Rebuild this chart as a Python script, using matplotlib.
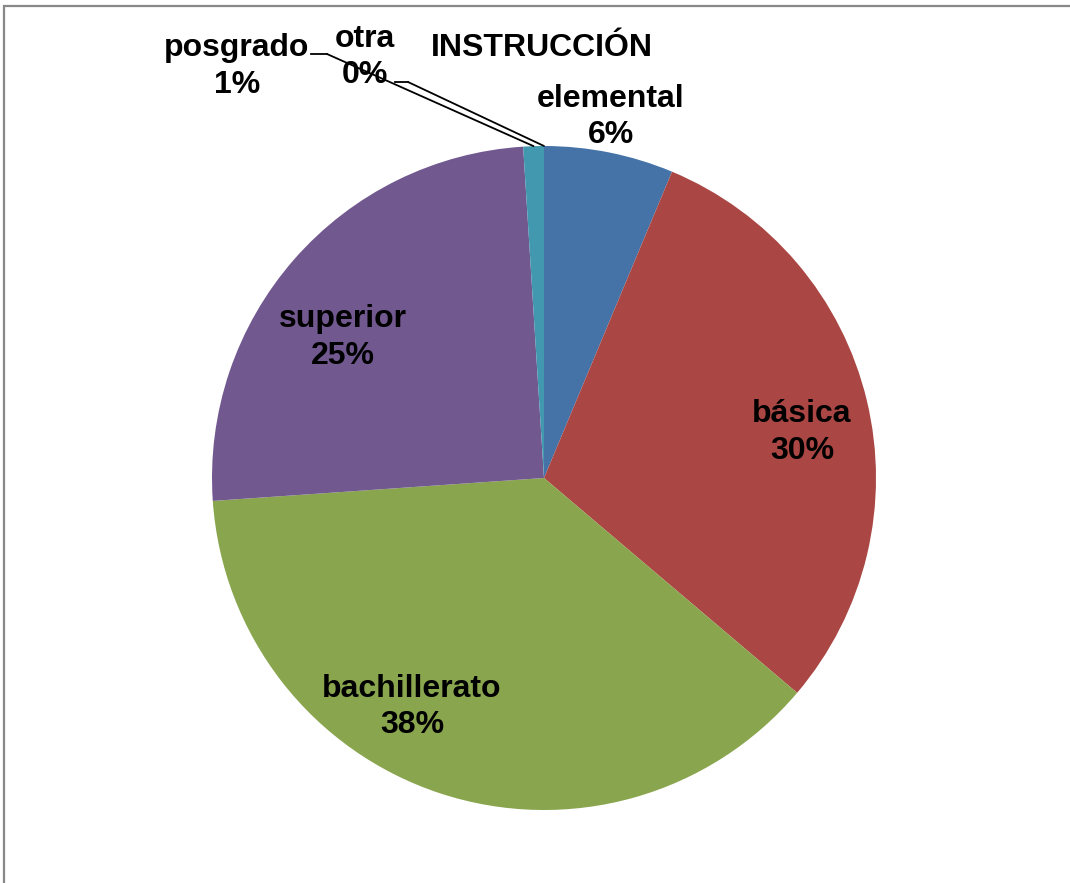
import numpy as np
import matplotlib
matplotlib.use("Agg")
import matplotlib.pyplot as plt
from matplotlib.lines import Line2D
from matplotlib.patches import Rectangle

plt.rcParams['font.family'] = ['Liberation Sans', 'DejaVu Sans']

# datos (porcentajes)
categorias = ["elemental", "básica", "bachillerato", "superior", "posgrado", "otra"]
valores = [6.3, 29.9, 37.7, 25.1, 1.0, 0.0]
colores = ["#4572A7", "#AA4643", "#89A54E", "#71588F", "#4198AF", "#DB843D"]
titulo = "INSTRUCCIÓN"

W, H = 1070, 883
fig = plt.figure(figsize=(W / 100, H / 100), dpi=100)


def px(x, y):
    # pixeles de la imagen (origen arriba-izquierda) -> fraccion de figura
    return x / W, 1 - y / H


# eje cuadrado para la torta: centro (544, 478), radio 332 px
cx, cy, r = 544, 478, 332
ax = fig.add_axes([(cx - r) / W, 1 - (cy + r) / H, 2 * r / W, 2 * r / H])
wedges, _ = ax.pie(valores, colors=colores, startangle=90, counterclock=False,
                   radius=1, wedgeprops=dict(linewidth=0))
ax.set_xlim(-1, 1)
ax.set_ylim(-1, 1)
ax.set_aspect("equal")
ax.axis("off")

total = sum(valores)
pct = [f"{round(v / total * 100)}%" for v in valores]

fs = 23
# posiciones de etiquetas: (x centro, linea base 1, linea base 2) en pixeles
pos_etiquetas = {
    "elemental": (611, 107, 143),
    "básica": (802, 422, 459),
    "bachillerato": (412, 697, 733),
    "superior": (343, 327, 364),
    "posgrado": (237, 56, 93),
    "otra": (365, 47, 83),
}
for nombre, p in zip(categorias, pct):
    x, b1, b2 = pos_etiquetas[nombre]
    fig.text(*px(x, b1), nombre, ha="center", va="baseline", fontsize=fs, fontweight="bold")
    fig.text(*px(x, b2), p, ha="center", va="baseline", fontsize=fs, fontweight="bold")

fig.text(*px(542, 56), titulo, ha="center", va="baseline", fontsize=fs, fontweight="bold")

# lineas guia para posgrado y otra
guias = {"posgrado": ((311, 54), (327, 54)), "otra": ((395, 82), (408, 82))}
for nombre, (a, b) in guias.items():
    w = wedges[categorias.index(nombre)]
    ang = np.deg2rad((w.theta1 + w.theta2) / 2)
    borde = (np.cos(ang), np.sin(ang))
    fig.add_artist(Line2D([px(*a)[0], px(*b)[0]], [px(*a)[1], px(*b)[1]],
                          color="black", lw=1.3, transform=fig.transFigure))
    ax.annotate("", xy=borde, xycoords="data", xytext=px(*b), textcoords="figure fraction",
                arrowprops=dict(arrowstyle="-", color="black", lw=1.3, shrinkA=0, shrinkB=0))

# borde del area del grafico (solo arriba e izquierda visibles)
fig.add_artist(Rectangle(px(4, 900), (W + 20) / W, (900 - 6) / H, fill=False,
                         edgecolor="#888888", lw=1.6, transform=fig.transFigure))

fig.savefig("out.png", dpi=100)
